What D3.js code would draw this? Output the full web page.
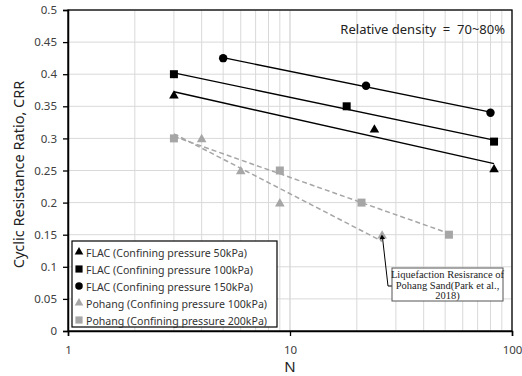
<!DOCTYPE html>
<html>
<head>
<meta charset="utf-8">
<script src="https://cdn.jsdelivr.net/npm/d3@7"></script>
<style>
  body { margin: 0; background: #fff; }
  svg text { font-family: "Noto Sans", "DejaVu Sans", sans-serif; }
</style>
</head>
<body>
<svg id="chart" width="522" height="376"></svg>
<script>
// values
const flac50N = [3, 24, 83];
const flac50CRR = [0.368, 0.315, 0.253];
const flac100N = [3, 18, 83];
const flac100CRR = [0.40, 0.35, 0.295];
const flac150N = [5, 22, 80];
const flac150CRR = [0.425, 0.382, 0.34];
const pohang100N = [4, 6, 9, 26];
const pohang100CRR = [0.30, 0.25, 0.20, 0.15];
const pohang200N = [3, 9, 21, 52];
const pohang200CRR = [0.30, 0.25, 0.20, 0.15];
const pohang100FitRange = [3, 26];

const yTicks = [0, 0.05, 0.1, 0.15, 0.2, 0.25, 0.3, 0.35, 0.4, 0.45, 0.5];
const xTicks = [1, 10, 100];

const series = [
  { name: 'FLAC (Confining pressure 50kPa)', n: flac50N, crr: flac50CRR, shape: 'triangle', color: '#000', dashed: false },
  { name: 'FLAC (Confining pressure 100kPa)', n: flac100N, crr: flac100CRR, shape: 'square', color: '#000', dashed: false },
  { name: 'FLAC (Confining pressure 150kPa)', n: flac150N, crr: flac150CRR, shape: 'circle', color: '#000', dashed: false },
  { name: 'Pohang (Confining pressure 100kPa)', n: pohang100N, crr: pohang100CRR, shape: 'triangle', color: '#a6a6a6', dashed: true, fitRange: pohang100FitRange },
  { name: 'Pohang (Confining pressure 200kPa)', n: pohang200N, crr: pohang200CRR, shape: 'square', color: '#a6a6a6', dashed: true }
];

const margin = { top: 10, right: 10, bottom: 45, left: 68 };
const width = 522 - margin.left - margin.right;
const height = 376 - margin.top - margin.bottom;

const svg = d3.select('#chart');
const g = svg.append('g').attr('transform', `translate(${margin.left},${margin.top})`);

const x = d3.scaleLog().domain([1, 100]).range([0, width]);
const y = d3.scaleLinear().domain([0, 0.5]).range([height, 0]);

// grid
const minorX = [];
for (let d = 1; d < 100; d *= 10) for (let k = 1; k <= 10; k++) minorX.push(d * k);
g.append('g').selectAll('line').data(minorX).join('line')
  .attr('x1', d => x(d)).attr('x2', d => x(d))
  .attr('y1', 0).attr('y2', height)
  .attr('stroke', '#d9d9d9').attr('stroke-width', 1);
g.append('g').selectAll('line').data(yTicks).join('line')
  .attr('x1', 0).attr('x2', width)
  .attr('y1', d => y(d)).attr('y2', d => y(d))
  .attr('stroke', '#d9d9d9').attr('stroke-width', 1);

// frame
g.append('rect').attr('width', width).attr('height', height)
  .attr('fill', 'none').attr('stroke', '#000').attr('stroke-width', 1.3);

// axes
const yAxis = g.append('g')
  .call(d3.axisLeft(y).tickValues(yTicks).tickSize(5).tickPadding(6).tickFormat(d3.format('')));
const xAxis = g.append('g').attr('transform', `translate(0,${height})`)
  .call(d3.axisBottom(x).tickValues(xTicks).tickSize(5).tickPadding(10).tickFormat(d3.format('')));
[yAxis, xAxis].forEach(a => {
  a.select('.domain').attr('stroke', '#000').attr('stroke-width', 1.5);
  a.selectAll('.tick line').attr('stroke', '#000').attr('stroke-width', 1.3);
  a.selectAll('.tick text').attr('fill', '#404040')
    .style('font-family', '"Noto Sans", sans-serif').style('font-size', '11.5px');
});

// regression lines (CRR vs log N)
function fit(s) {
  const lx = s.n.map(v => Math.log10(v));
  const mx = d3.mean(lx), my = d3.mean(s.crr);
  const sxy = d3.sum(lx, (v, i) => (v - mx) * (s.crr[i] - my));
  const sxx = d3.sum(lx, v => (v - mx) ** 2);
  const b = sxy / sxx;
  const range = s.fitRange || d3.extent(s.n);
  return range.map(v => [v, my + b * (Math.log10(v) - mx)]);
}
const line = d3.line().x(d => x(d[0])).y(d => y(d[1]));
series.forEach(s => {
  g.append('path').datum(fit(s))
    .attr('d', line).attr('fill', 'none')
    .attr('stroke', s.dashed ? '#a6a6a6' : '#000')
    .attr('stroke-width', s.dashed ? 1.5 : 1.4)
    .attr('stroke-dasharray', s.dashed ? '5,3' : null);
});

const symbolType = { triangle: d3.symbolTriangle, square: d3.symbolSquare, circle: d3.symbolCircle };
const symbolSize = { triangle: 40, square: 64, circle: 56 };
series.forEach(s => {
  g.append('g').selectAll('path').data(s.n.map((v, i) => [v, s.crr[i]])).join('path')
    .attr('transform', d => `translate(${x(d[0])},${y(d[1]) + (s.shape === 'triangle' ? 1 : 0)})`)
    .attr('d', d3.symbol(symbolType[s.shape], symbolSize[s.shape]))
    .attr('fill', s.color);
});

// annotation
const tip = [26, 0.15];
const ann = g.append('g');
ann.append('path')
  .attr('d', `M${324},${276} L${320},${276} L${x(tip[0]) + 0.5},${y(tip[1]) + 4}`)
  .attr('fill', 'none').attr('stroke', '#000').attr('stroke-width', 1);
ann.append('path')
  .attr('transform', `translate(${x(tip[0])},${y(tip[1]) + 3}) rotate(-5)`)
  .attr('d', d3.symbol(d3.symbolTriangle, 14)).attr('fill', '#000');
ann.append('rect').attr('x', 324).attr('y', 258).attr('width', 111).attr('height', 33)
  .attr('fill', '#fff').attr('stroke', '#555').attr('stroke-width', 1);
['Liquefaction Resisrance of', 'Pohang Sand(Park et al.,', '2018)'].forEach((t, i) => {
  ann.append('text').attr('x', 379.5).attr('y', 268 + i * 10.5)
    .attr('text-anchor', 'middle')
    .style('font-family', '"Liberation Serif", "Times New Roman", serif')
    .style('font-size', '10.5px').attr('fill', '#222').text(t);
});

// relative density note
g.append('text').attr('x', width - 7).attr('y', 24).attr('text-anchor', 'end')
  .style('font-size', '13px').style('white-space', 'pre').attr('fill', '#222')
  .text('Relative density  =  70~80%');

// legend
const legend = g.append('g').attr('transform', 'translate(4,231)');
legend.append('rect').attr('width', 205).attr('height', 86)
  .attr('fill', '#fff').attr('stroke', '#000').attr('stroke-width', 1.2);
series.forEach((s, i) => {
  const row = legend.append('g').attr('transform', `translate(0,${11 + i * 17})`);
  row.append('path').attr('transform', 'translate(7,0)')
    .attr('d', d3.symbol(symbolType[s.shape], symbolSize[s.shape] * 0.8)).attr('fill', s.color);
  row.append('text').attr('x', 14).attr('y', 4.5)
    .style('font-size', '10.6px').attr('fill', '#333').text(s.name);
});

// axis titles
svg.append('text').attr('x', margin.left + x(10)).attr('y', 372).attr('text-anchor', 'middle')
  .style('font-size', '15px').attr('fill', '#222').text('N');
svg.append('text').attr('transform', `translate(24,${margin.top + height / 2 + 4}) rotate(-90)`)
  .attr('text-anchor', 'middle').style('font-size', '14.5px').attr('fill', '#222')
  .text('Cyclic Resistance Ratio, CRR');
</script>
</body>
</html>
